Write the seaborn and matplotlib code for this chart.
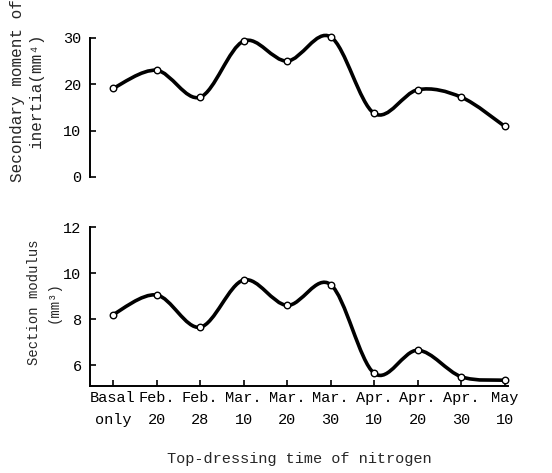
import numpy as np
import pandas as pd
import matplotlib
matplotlib.use("Agg")
import matplotlib.pyplot as plt
from matplotlib.path import Path
from matplotlib.patches import PathPatch
import seaborn as sns

# data
dates = ["Basal\nonly", "Feb.\n20", "Feb.\n28", "Mar.\n10", "Mar.\n20",
         "Mar.\n30", "Apr.\n10", "Apr.\n20", "Apr.\n30", "May\n10"]
inertia = [19.1, 23.0, 17.2, 29.3, 25.0, 30.2, 13.7, 18.8, 17.2, 10.9]
modulus = [8.2, 9.05, 7.65, 9.7, 8.6, 9.5, 5.65, 6.65, 5.5, 5.35]


def smooth_path(xs, ys):
    # catmull-rom style bezier through the points
    pts = np.column_stack([xs, ys]).astype(float)
    n = len(pts)
    verts = [pts[0]]
    codes = [Path.MOVETO]
    for i in range(n - 1):
        p0 = pts[i - 1] if i > 0 else pts[i]
        p1 = pts[i]
        p2 = pts[i + 1]
        p3 = pts[i + 2] if i + 2 < n else pts[i + 1]
        verts += [p1 + (p2 - p0) / 6, p2 - (p3 - p1) / 6, p2]
        codes += [Path.CURVE4] * 3
    return Path(verts, codes)


def draw_curve(ax, df, col):
    patch = PathPatch(smooth_path(df["x"], df[col]), fill=False, edgecolor="black",
                      lw=2.6, capstyle="round", joinstyle="round", clip_on=False)
    ax.add_patch(patch)
    sns.scatterplot(data=df, x="x", y=col, ax=ax, marker="o", s=22,
                    facecolor="white", edgecolor="black", linewidth=1.0,
                    zorder=5, clip_on=False, legend=False)


sns.set_style("ticks")
plt.rcParams["font.family"] = ["Liberation Mono", "DejaVu Sans Mono"]

df = pd.DataFrame({"x": np.arange(len(dates)), "inertia": inertia, "modulus": modulus})

fig = plt.figure(figsize=(5.52, 4.73), dpi=100)
ax1 = fig.add_axes([0.163, 0.626, 0.757, 0.294])
ax2 = fig.add_axes([0.163, 0.184, 0.757, 0.336])

# top panel
draw_curve(ax1, df, "inertia")
ax1.set_xlim(-0.53, 9.07)
ax1.set_ylim(0, 30)
ax1.set_yticks([0, 10, 20, 30])
ax1.set_xticks([])
for s in ["top", "right", "bottom"]:
    ax1.spines[s].set_visible(False)
ax1.set_xlabel("")
ax1.set_ylabel("Secondary moment of\ninertia(mm\u2074)", fontsize=11.5, linespacing=1.3)
ax1.yaxis.set_label_coords(-0.11, 0.62)

# bottom panel
draw_curve(ax2, df, "modulus")
ax2.set_xlim(-0.53, 9.07)
ax2.set_ylim(5.1, 12)
ax2.set_yticks([6, 8, 10, 12])
ax2.set_xticks(df["x"])
ax2.set_xticklabels(dates, linespacing=1.75)
for s in ["top", "right"]:
    ax2.spines[s].set_visible(False)
ax2.set_ylabel("Section modulus\n(mm\u00b3)", fontsize=10, linespacing=1.5)
ax2.yaxis.set_label_coords(-0.07, 0.53)
ax2.set_xlabel("Top-dressing time of nitrogen", fontsize=11, labelpad=18)

for ax in (ax1, ax2):
    ax.tick_params(direction="in", length=4, width=1.2, labelsize=11, colors="black")
    ax.tick_params(axis="y", pad=6)
    for s in ax.spines.values():
        s.set_linewidth(1.4)
        s.set_color("black")

fig.savefig("out.png", dpi=100)
